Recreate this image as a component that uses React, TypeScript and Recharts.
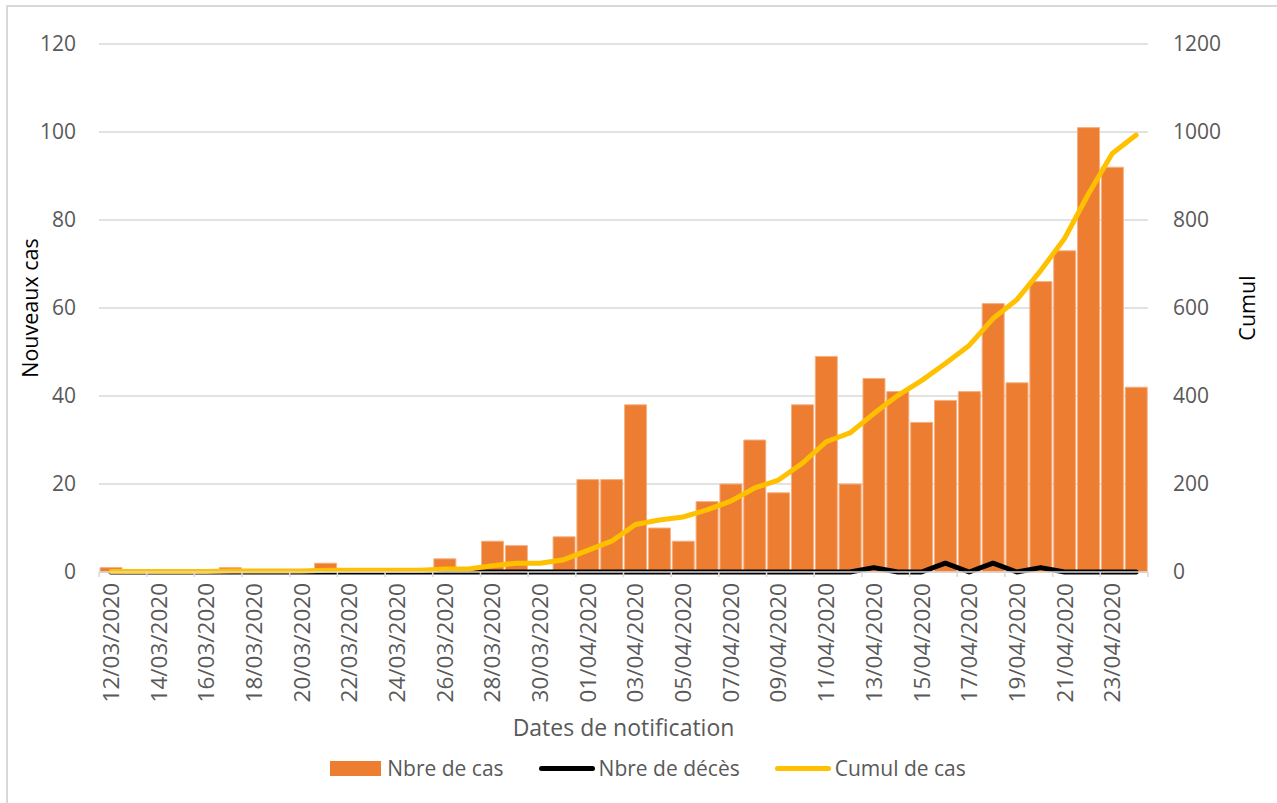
import React from 'react';
import { ComposedChart, Bar, Line, XAxis, YAxis, CartesianGrid, Legend } from 'recharts';

const dates = [
  '12/03/2020', '13/03/2020', '14/03/2020', '15/03/2020', '16/03/2020', '17/03/2020', '18/03/2020',
  '19/03/2020', '20/03/2020', '21/03/2020', '22/03/2020', '23/03/2020', '24/03/2020', '25/03/2020',
  '26/03/2020', '27/03/2020', '28/03/2020', '29/03/2020', '30/03/2020', '31/03/2020', '01/04/2020',
  '02/04/2020', '03/04/2020', '04/04/2020', '05/04/2020', '06/04/2020', '07/04/2020', '08/04/2020',
  '09/04/2020', '10/04/2020', '11/04/2020', '12/04/2020', '13/04/2020', '14/04/2020', '15/04/2020',
  '16/04/2020', '17/04/2020', '18/04/2020', '19/04/2020', '20/04/2020', '21/04/2020', '22/04/2020',
  '23/04/2020', '24/04/2020',
];

const newCases = [
  1, 0, 0, 0, 0, 1, 0, 0, 0, 2, 0, 0, 0, 0, 3, 0, 7, 6, 0, 8,
  21, 21, 38, 10, 7, 16, 20, 30, 18, 38, 49, 20, 44, 41, 34, 39, 41, 61, 43, 66, 73, 101, 92, 42,
];

const deaths = [
  0, 0, 0, 0, 0, 0, 0, 0, 0, 0, 0, 0, 0, 0, 0, 0, 0, 0, 0, 0,
  0, 0, 0, 0, 0, 0, 0, 0, 0, 0, 0, 0, 1, 0, 0, 2, 0, 2, 0, 1, 0, 0, 0, 0,
];

const cumulative = [
  1, 1, 1, 1, 1, 2, 2, 2, 2, 4, 4, 4, 4, 4, 7, 7, 14, 20, 20, 28,
  49, 70, 108, 118, 125, 141, 161, 191, 209, 247, 296, 316, 360, 401, 435, 474, 515, 576, 619, 685, 758, 859, 951, 993,
];

const leftTicks = [0, 20, 40, 60, 80, 100, 120];
const rightTicks = [0, 200, 400, 600, 800, 1000, 1200];

const SERIES_CASES = 'Nbre de cas';
const SERIES_DEATHS = 'Nbre de décès';
const SERIES_CUMUL = 'Cumul de cas';

const COLOR_CASES = '#ED7D31';
const COLOR_DEATHS = '#000000';
const COLOR_CUMUL = '#FFC000';

const data = dates.map((d, i) => ({
  date: d,
  cases: newCases[i],
  deaths: deaths[i],
  cumul: cumulative[i],
}));

const FONT = "'Open Sans', sans-serif";
const W = 1277;
const H = 803;
const MARGIN = { top: 44, right: 59, left: 39, bottom: 15 };
const LEFT_AXIS_W = 60;
const RIGHT_AXIS_W = 70;
const PLOT_W = W - MARGIN.left - MARGIN.right - LEFT_AXIS_W - RIGHT_AXIS_W;
const STEP = PLOT_W / dates.length;

function DateTick(props: any) {
  const { x, y, payload } = props;
  const i = dates.indexOf(payload.value);
  const bx = x - STEP / 2;
  const tx = x + 8;
  const ty = y + 11;
  return (
    <g>
      <line x1={bx} y1={y} x2={bx} y2={y + 5} stroke="#d9d9d9" strokeWidth={1.5} />
      {i === dates.length - 2 && (
        <line x1={x + STEP * 1.5} y1={y} x2={x + STEP * 1.5} y2={y + 5} stroke="#d9d9d9" strokeWidth={1.5} />
      )}
      <text
        x={tx}
        y={ty}
        transform={`rotate(-90, ${tx}, ${ty})`}
        textAnchor="end"
        fill="#595959"
        fontSize={22.5}
        fontFamily={FONT}
      >
        {payload.value}
      </text>
    </g>
  );
}

const legendItems = [
  { name: SERIES_CASES, color: COLOR_CASES, kind: 'rect' },
  { name: SERIES_DEATHS, color: COLOR_DEATHS, kind: 'line' },
  { name: SERIES_CUMUL, color: COLOR_CUMUL, kind: 'line' },
];

function LegendContent() {
  return (
    <div
      style={{
        display: 'flex',
        justifyContent: 'center',
        alignItems: 'center',
        height: 40,
        fontFamily: FONT,
        fontSize: 21,
        color: '#595959',
        paddingLeft: 39,
      }}
    >
      {legendItems.map((it, k) => (
        <div key={it.name} style={{ display: 'flex', alignItems: 'center', marginLeft: k === 0 ? 0 : 35 }}>
          {it.kind === 'rect' ? (
            <span style={{ display: 'inline-block', width: 51, height: 15, background: it.color, marginRight: 6 }} />
          ) : (
            <span
              style={{
                display: 'inline-block',
                width: 56,
                height: 5,
                borderRadius: 3,
                background: it.color,
                marginRight: 4,
              }}
            />
          )}
          <span>{it.name}</span>
        </div>
      ))}
    </div>
  );
}

export default function App() {
  return (
    <div style={{ position: 'absolute', left: 0, top: 0, width: W, height: H, overflow: 'hidden', background: '#fff' }}>
      <div
        style={{
          position: 'absolute',
          left: 6,
          top: 5,
          width: W + 20,
          height: H + 20,
          borderLeft: '2px solid #d9d9d9',
          borderTop: '2px solid #d9d9d9',
        }}
      />
      <div style={{ position: 'absolute', left: 0, top: 0 }}>
        <ComposedChart width={W} height={H} data={data} margin={MARGIN} barCategoryGap="4.5%">
          <CartesianGrid yAxisId="left" vertical={false} stroke="#d9d9d9" strokeWidth={1.5} />
          <XAxis
            dataKey="date"
            interval={1}
            height={176}
            tickSize={0}
            tickMargin={0}
            tickLine={false}
            axisLine={{ stroke: '#d9d9d9', strokeWidth: 1.5 }}
            tick={<DateTick />}
            label={{
              value: 'Dates de notification',
              position: 'insideBottom',
              offset: 12,
              fill: '#595959',
              fontSize: 23,
              fontFamily: FONT,
            }}
          />
          <YAxis
            yAxisId="left"
            orientation="left"
            width={LEFT_AXIS_W}
            domain={[0, 120]}
            ticks={leftTicks}
            axisLine={false}
            tickLine={false}
            tickMargin={17}
            tick={{ fill: '#595959', fontSize: 21, fontFamily: FONT }}
            label={{
              value: 'Nouveaux cas',
              angle: -90,
              position: 'insideLeft',
              offset: -9,
              fill: '#000',
              fontSize: 21.5,
              fontFamily: FONT,
              style: { textAnchor: 'middle' },
            }}
          />
          <YAxis
            yAxisId="right"
            orientation="right"
            width={RIGHT_AXIS_W}
            domain={[0, 1200]}
            ticks={rightTicks}
            axisLine={false}
            tickLine={false}
            tickMargin={19}
            tick={{ fill: '#595959', fontSize: 21, fontFamily: FONT, textAnchor: 'start' }}
            label={{
              value: 'Cumul',
              angle: -90,
              position: 'insideRight',
              offset: -29,
              fill: '#000',
              fontSize: 21.5,
              fontFamily: FONT,
              style: { textAnchor: 'middle' },
            }}
          />
          <Legend verticalAlign="bottom" height={40} content={<LegendContent />} />
          <Bar
            yAxisId="left"
            dataKey="cases"
            name={SERIES_CASES}
            fill={COLOR_CASES}
            stroke="#F4B183"
            strokeWidth={1}
            isAnimationActive={false}
          />
          <Line
            yAxisId="left"
            type="linear"
            dataKey="deaths"
            name={SERIES_DEATHS}
            stroke={COLOR_DEATHS}
            strokeWidth={5}
            dot={false}
            activeDot={false}
            strokeLinejoin="round"
            strokeLinecap="round"
            isAnimationActive={false}
          />
          <Line
            yAxisId="right"
            type="linear"
            dataKey="cumul"
            name={SERIES_CUMUL}
            stroke={COLOR_CUMUL}
            strokeWidth={5}
            dot={false}
            activeDot={false}
            strokeLinejoin="round"
            strokeLinecap="round"
            isAnimationActive={false}
          />
        </ComposedChart>
      </div>
    </div>
  );
}
